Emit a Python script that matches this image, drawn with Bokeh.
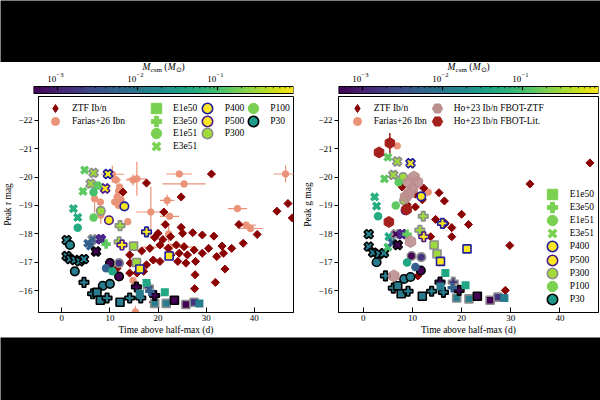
import math
import numpy as np
from bokeh.plotting import figure
from bokeh.layouts import column, row
from bokeh.models import (ColumnDataSource, LogColorMapper, LinearColorMapper,
                          Legend, LegendItem, Range1d, FixedTicker)
from bokeh.transform import transform
from bokeh.palettes import Viridis256
from bokeh.core.properties import value, field
from bokeh.embed import file_html
from bokeh.resources import INLINE

FONT = "Liberation Serif"

# ---------------------------------------------------------------- data
# ZTF Ib/n, r band: time above half max (d), peak magnitude
ztf_r_t = [17.6, 12.7, 31.1, 24.8, 21.2, 44.7, 47.0, 47.9, 36.8, 21.5, 24.8, 25.1,
           20.0, 19.3, 27.2, 29.2, 31.6, 40.6, 33.3, 35.3, 37.7, 14.1, 16.6, 18.3,
           20.4, 22.1, 23.8, 25.4, 27.5, 29.2, 30.5, 32.2, 33.6, 14.2, 16.3, 17.6,
           19.0, 20.4, 24.1, 25.8, 27.8, 22.7, 24.4, 26.1, 15.6, 17.0, 14.1, 33.9,
           27.7, 31.9, 27.6, 11.5, 19.0, 21.0, 22.6]
ztf_r_mag = [-19.79, -19.47, -20.11, -19.30, -18.77, -18.80, -19.07, -18.56, -18.33,
             -18.33, -18.23, -18.02, -18.02, -17.87, -18.04, -17.96, -17.92, -17.98,
             -17.57, -17.49, -17.67, -17.26, -17.40, -17.49, -17.61, -17.49, -17.61,
             -17.55, -17.43, -17.32, -17.49, -17.20, -17.32, -16.97, -16.79, -16.91,
             -17.08, -17.03, -17.03, -16.97, -17.03, -17.26, -17.32, -17.26, -16.62,
             -16.68, -16.62, -16.76, -16.56, -16.29, -16.07, -16.79, -15.59, -17.80,
             -17.90]

# Farias+26 Ibn, r band, with uncertainties
far_r_t = [24.4, 25.4, 21.9, 18.5, 22.4, 36.5, 46.5, 38.3, 39.2, 15.6, 14.8, 11.3,
           10.5, 11.8, 11.5, 11.0, 11.8, 12.3, 12.0, 6.8, 8.0, 8.1, 13.7, 22.4, 14.8,
           15.3, 22.2]
far_r_mag = [-20.11, -19.76, -19.18, -18.77, -18.62, -18.89, -20.11, -18.31, -18.19,
             -19.94, -19.90, -19.90, -20.10, -19.50, -19.30, -19.12, -19.00, -19.20,
             -19.65, -19.24, -19.12, -18.66, -18.43, -17.53, -16.36, -15.25, -18.00]
far_r_terr = [2.7, 4.5, 1.5, 3.1, 2.0, 2.0, 2.5, 2.0, 2.5, 2.0, 1.5, 1.0, 2.4, 0.5,
              0.5, 0.4, 0.3, 0.3, 0.3, 0.3, 0.3, 0.5, 0.3, 5.6, 0.3, 0.5, 0.3]
far_r_magerr = [0.1, 0.1, 0.2, 0.9, 0.1, 0.05, 0.3, 0.1, 0.1, 0.6, 0.2, 0.15, 0.3,
                0.1, 0.1, 0.1, 0.1, 0.1, 0.1, 0.5, 0.1, 0.3, 0.1, 0.1, 0.1, 0.2, 0.3]

# CSM interaction models, r band: explosion, CSM profile, CSM mass (Msun)
mod_r_t = [4.75, 4.4, 2.4, 3.3, 3.3, 6.6, 6.0, 9.6, 9.0, 7.5, 6.6, 6.6, 8.1, 13.0,
           9.8, 12.1, 17.6, 1.0, 1.7, 1.0, 1.7, 2.7, 3.7, 4.6, 2.7, 4.6, 8.5, 10.0,
           6.4, 7.3, 8.0, 9.4, 12.1, 14.1, 16.4, 19.3, 21.7, 23.4, 25.8, 27.5, 28.6,
           6.4, 8.1, 5.4, 5.95, 7.1, 9.2, 11.9, 12.5, 14.9, 15.5, 16.2, 22.3, 10.0,
           11.9, 11.9, 9.2, 10.5, 15.5, 18.0, 19.3, 17.6, 21.4, 16.2, 18.3]
mod_r_mag = [-20.25, -19.50, -18.89, -18.58, -18.22, -20.15, -19.77, -20.11, -19.60,
             -19.70, -19.47, -18.58, -18.81, -18.97, -18.48, -18.29, -18.07, -17.78,
             -17.61, -17.22, -17.11, -17.08, -17.03, -17.11, -16.68, -16.29, -16.17,
             -16.24, -15.89, -15.94, -15.66, -15.74, -15.59, -15.74, -15.74, -15.55,
             -15.55, -15.66, -15.51, -15.59, -15.55, -17.81, -17.81, -17.67, -17.57,
             -17.38, -17.64, -17.72, -17.61, -17.57, -16.99, -16.76, -17.22, -16.97,
             -16.97, -16.50, -16.79, -16.68, -16.13, -16.13, -15.83, -16.27, -15.94,
             -15.90, -15.98]
mod_r_expl = ["E3e51", "E3e51", "E3e51", "E3e51", "E1e51", "E3e51", "E3e51", "E3e51",
              "E3e51", "E1e51", "E1e51", "E1e51", "E1e51", "E1e51", "E1e51", "E3e50",
              "E3e50", "E3e51", "E1e51", "E3e51", "E3e51", "E3e51", "E3e51", "E3e51",
              "E1e51", "E3e50", "E1e51", "E1e51", "E3e50", "E1e50", "E1e50", "E3e50",
              "E1e50", "E3e50", "E3e50", "E1e50", "E1e50", "E1e50", "E1e50", "E1e50",
              "E1e50", "E3e51", "E3e51", "E3e51", "E3e51", "E3e51", "E3e50", "E3e50",
              "E3e50", "E1e50", "E1e50", "E1e50", "E1e50", "E1e51", "E1e51", "E1e51",
              "E1e51", "E1e51", "E3e50", "E3e50", "E3e50", "E1e50", "E1e50", "E1e50",
              "E3e50"]
mod_r_prof = ["P100", "P100", "P100", "P100", "P100", "P300", "P300", "P400", "P500",
              "P100", "P100", "P100", "P300", "P400", "P500", "P300", "P400", "P30",
              "P30", "P30", "P30", "P30", "P30", "P30", "P30", "P30", "P30", "P30",
              "P30", "P30", "P30", "P30", "P30", "P30", "P30", "P300", "P300", "P30",
              "P300", "P300", "P100", "P300", "P500", "P100", "P100", "P30", "P100",
              "P300", "P500", "P300", "P300", "P400", "P400", "P30", "P300", "P30",
              "P100", "P100", "P30", "P300", "P30", "P100", "P100", "P100", "P100"]
mod_r_mcsm = [0.14, 0.14, 0.06, 0.05, 0.05, 0.3, 0.3, 0.8, 0.8, 0.14, 0.1, 0.14, 0.3,
              0.8, 0.8, 0.3, 0.8, 0.015, 0.015, 0.012, 0.012, 0.012, 0.012, 0.012,
              0.012, 0.012, 0.012, 0.012, 0.012, 0.012, 0.012, 0.012, 0.012, 0.012,
              0.012, 0.012, 0.012, 0.0005, 0.0005, 0.0016, 0.012, 0.005, 0.0016, 0.005,
              0.0047, 0.0005, 0.14, 0.3, 0.8, 0.3, 0.3, 0.8, 0.8, 0.0005, 0.0016,
              0.0005, 0.005, 0.045, 0.0005, 0.0016, 0.0005, 0.045, 0.045, 0.012, 0.005]

# ZTF Ib/n, g band
ztf_g_t = [46.1, 33.9, 12.3, 15.4, 16.5, 10.6, 7.9, 8.9, 10.6, 12.0, 8.9, 20.0, 14.7,
           16.7, 21.4, 18.0, 13.7, 18.0, 29.8, 28.9, 11.1]
ztf_g_mag = [-20.50, -19.76, -19.61, -19.45, -19.16, -19.40, -19.65, -19.40, -18.95,
             -19.20, -19.03, -18.69, -18.51, -18.37, -18.33, -18.22, -17.90, -17.90,
             -17.59, -16.01, -16.52]

# Farias+26 Ibn, g band
far_g_t = [6.9, 13.2]
far_g_mag = [-21.10, -19.47]

# Ho+23 Ib/n FBOTs
ho_ztf_t = [10.3, 11.0, 9.3, 10.0, 9.3, 8.6, 9.6, 6.2]
ho_ztf_mag = [-20.00, -19.82, -19.82, -19.59, -19.42, -19.30, -17.73, -16.52]
ho_lit_t = [3.2, 5.4, 8.8, 5.2]
ho_lit_mag = [-20.87, -21.20, -18.86, -18.42]
ho_lit_magerr = [0.0, 0.35, 0.15, 0.0]

# CSM interaction models, g band
mod_g_t = [5.0, 4.3, 2.3, 2.7, 3.0, 6.9, 6.1, 9.6, 8.1, 7.2, 6.6, 8.3, 11.8, 8.6,
           12.2, 11.5, 16.1, 12.3, 1.1, 1.1, 2.0, 3.2, 4.2, 2.7, 4.5, 6.1, 7.0, 7.7,
           9.1, 8.3, 9.6, 12.0, 13.9, 16.3, 19.0, 21.5, 23.2, 25.8, 27.4, 28.7, 5.2,
           5.0, 5.9, 6.6, 7.9, 7.0, 8.9, 14.4, 15.0, 15.7, 21.1, 9.8, 11.8, 11.7, 8.9,
           10.6, 16.7, 15.6, 18.3, 19.5, 20.8, 15.7, 18.1]
mod_g_mag = [-20.70, -19.94, -19.30, -18.98, -18.62, -20.55, -20.08, -20.49, -20.00,
             -19.82, -19.00, -19.18, -19.32, -18.83, -18.62, -18.13, -18.37, -17.90,
             -17.99, -17.55, -17.34, -17.29, -17.32, -17.00, -16.52, -16.09, -16.17,
             -15.89, -15.98, -16.41, -16.48, -15.80, -15.98, -15.94, -15.74, -15.71,
             -15.80, -15.66, -15.77, -15.74, -17.90, -17.53, -17.69, -17.99, -17.99,
             -17.61, -17.99, -17.61, -17.29, -17.03, -17.47, -17.22, -17.18, -16.71,
             -16.99, -16.83, -16.62, -16.30, -16.30, -16.01, -16.19, -16.15, -16.10]
mod_g_expl = ["E3e51", "E3e51", "E3e51", "E3e51", "E1e51", "E3e51", "E3e51", "E3e51",
              "E1e51", "E1e51", "E1e51", "E1e51", "E1e51", "E1e51", "E3e50", "E3e50",
              "E3e50", "E3e50", "E3e51", "E3e51", "E3e51", "E3e51", "E3e51", "E1e51",
              "E3e50", "E3e50", "E1e50", "E1e50", "E3e50", "E1e51", "E1e51", "E1e50",
              "E3e50", "E3e50", "E1e50", "E1e50", "E1e50", "E1e50", "E1e50", "E1e50",
              "E3e51", "E3e51", "E3e51", "E3e51", "E3e51", "E3e51", "E3e50", "E1e50",
              "E1e50", "E1e50", "E1e50", "E1e51", "E1e51", "E1e51", "E1e51", "E1e51",
              "E1e50", "E3e50", "E3e50", "E3e50", "E1e50", "E1e50", "E3e50"]
mod_g_prof = ["P100", "P100", "P100", "P100", "P100", "P300", "P300", "P400", "P300",
              "P100", "P100", "P300", "P400", "P500", "P300", "P300", "P400", "P500",
              "P30", "P30", "P30", "P30", "P30", "P30", "P30", "P30", "P30", "P30",
              "P30", "P30", "P30", "P30", "P30", "P30", "P300", "P300", "P30", "P300",
              "P300", "P100", "P100", "P100", "P100", "P300", "P500", "P30", "P100",
              "P300", "P300", "P400", "P400", "P300", "P300", "P30", "P100", "P100",
              "P100", "P30", "P300", "P30", "P100", "P100", "P100"]
mod_g_mcsm = [0.14, 0.14, 0.06, 0.05, 0.05, 0.3, 0.3, 0.8, 0.3, 0.14, 0.14, 0.3, 0.8,
              0.8, 0.3, 0.3, 0.8, 0.8, 0.015, 0.012, 0.012, 0.012, 0.012, 0.012,
              0.012, 0.012, 0.012, 0.012, 0.012, 0.012, 0.012, 0.012, 0.012, 0.012,
              0.012, 0.012, 0.0005, 0.0005, 0.0016, 0.012, 0.045, 0.1, 0.005, 0.0005,
              0.0016, 0.0005, 0.14, 0.3, 0.3, 0.8, 0.8, 0.0005, 0.0016, 0.0005, 0.045,
              0.005, 0.045, 0.0005, 0.0016, 0.0005, 0.045, 0.012, 0.005]

# axis ticks
X_TICKS = [0, 10, 20, 30, 40]
Y_TICKS = [-22, -21, -20, -19, -18, -17, -16]
CB_MAJOR = [-3, -2, -1]
CB_EXP = ["\u22123", "\u22122", "\u22121"]

# ---------------------------------------------------------------- styles
ZTF_C = "#8B0000"
FAR_C = "#EA9378"
HO_ZTF_C = "#BC8F8F"
HO_LIT_C = "#A4201C"
KEY_GREEN = "#7AD151"
LOG_LO, LOG_HI = -3.3, -0.05
cmap = LogColorMapper(palette=Viridis256, low=10 ** LOG_LO, high=10 ** LOG_HI)

SHAPE = {"E1e50": ("square", 0.0, 8), "E3e50": ("plus", 0.0, 9.5),
         "E1e51": ("circle", 0.0, 8.5), "E3e51": ("plus", math.pi / 4, 9.5)}
EDGE = {"P400": "#1E1E9E", "P500": "#4B1A8C", "P300": "#8C8C8C", "P100": None, "P30": "black"}

CB_MINOR = [math.log10(k * 10.0 ** d) for d in (-4, -3, -2, -1) for k in range(2, 10)]
CB_MINOR = [v for v in CB_MINOR if LOG_LO < v < LOG_HI]
NAN = [float("nan")]


def model_source(t, mag, expl, prof, mcsm):
    return ColumnDataSource(dict(
        t=t, mag=mag, m=mcsm,
        marker=[SHAPE[e][0] for e in expl],
        angle=[SHAPE[e][1] for e in expl],
        size=[SHAPE[e][2] for e in expl],
        edge=[EDGE[p] or "#ffffff" for p in prof],
        edge_alpha=[0.0 if EDGE[p] is None else 1.0 for p in prof],
    ))


def colorbar_fig(bl, br):
    f = figure(width=300, height=33, x_range=Range1d(LOG_LO, LOG_HI), y_range=Range1d(0, 33),
               output_backend="svg", toolbar_location=None, x_axis_location=None,
               y_axis_location=None, min_border_left=bl, min_border_right=br,
               min_border_top=0, min_border_bottom=0)
    f.grid.visible = False
    f.outline_line_color = None
    grad = np.linspace(LOG_LO, LOG_HI, 256)[None, :]
    f.image(image=[grad], x=LOG_LO, y=2, dw=LOG_HI - LOG_LO, dh=7,
            color_mapper=LinearColorMapper(palette=Viridis256, low=LOG_LO, high=LOG_HI))
    f.quad(left=[LOG_LO], right=[LOG_HI], bottom=[2], top=[9], fill_color=None,
           line_color="black", line_width=1)
    f.segment(x0=CB_MAJOR, y0=[9] * 3, x1=CB_MAJOR, y1=[5.2] * 3, line_color="black", line_width=1.2)
    f.segment(x0=CB_MINOR, y0=[9] * len(CB_MINOR), x1=CB_MINOR, y1=[7.2] * len(CB_MINOR),
              line_color="black", line_width=0.8)
    f.text(x=CB_MAJOR, y=[17] * 3, text=["10"] * 3, text_align="right", text_baseline="middle",
           x_offset=-1.2, text_font=value(FONT), text_font_size=value("9px"), text_color="black")
    f.text(x=CB_MAJOR, y=[17] * 3, text=CB_EXP, text_align="left", text_baseline="middle",
           x_offset=-1.0, y_offset=-3.5, text_font=value(FONT), text_font_size=value("6.5px"),
           text_color="black")
    cx = (LOG_LO + LOG_HI) / 2
    pieces = [("M", "italic", "9.5px", -21.0, 0.0), ("csm", "normal", "7px", -12.9, 2.5),
              ("(", "normal", "9.5px", 0.8, 0.0), ("M", "italic", "9.5px", 4.2, 0.0),
              ("\u2299", "normal", "6.5px", 12.3, 2.5), (")", "normal", "9.5px", 18.1, 0.0)]
    for s, st, fs, dx, dy in pieces:
        f.text(x=[cx], y=[28.5], text=[s], text_align="left", text_baseline="middle",
               x_offset=dx, y_offset=dy, text_font=value(FONT), text_font_style=st,
               text_font_size=value(fs), text_color="black")
    return f


def panel(bl, br, xr, ylabel):
    p = figure(width=300, height=242, x_range=Range1d(*xr), y_range=Range1d(-15.23, -22.84),
               output_backend="svg", toolbar_location=None, min_border_left=bl,
               min_border_right=br, min_border_top=1, min_border_bottom=24)
    p.grid.visible = False
    p.outline_line_color = "black"
    p.outline_line_width = 1
    p.xaxis.ticker = FixedTicker(ticks=X_TICKS, minor_ticks=[])
    p.yaxis.ticker = FixedTicker(ticks=Y_TICKS, minor_ticks=[])
    p.yaxis.major_label_overrides = {v: "\u2212%d" % abs(v) for v in Y_TICKS}
    p.xaxis.major_tick_in = 5
    p.xaxis.major_tick_out = 0
    p.yaxis.major_tick_in = 0
    p.yaxis.major_tick_out = 4
    for ax in (p.xaxis, p.yaxis):
        ax.axis_line_color = "black"
        ax.major_tick_line_color = "black"
        ax.minor_tick_line_color = None
        ax.major_label_text_font = FONT
        ax.major_label_text_font_size = "9px"
        ax.major_label_text_color = "black"
        ax.axis_label_text_font = FONT
        ax.axis_label_text_font_size = "9.5px"
        ax.axis_label_text_font_style = "normal"
        ax.axis_label_text_color = "black"
        ax.major_label_standoff = 2
    p.xaxis.axis_label = "Time above half-max (d)"
    p.yaxis.axis_label = ylabel
    p.xaxis.axis_label_standoff = 1
    p.yaxis.axis_label_standoff = 2
    return p


def add_key(p, label, renderers, marker_cx, text_x, cy, glyph, frame_left, frame_bottom):
    """One legend entry: glyph centred at (marker_cx, cy) in page pixels."""
    lg = Legend(items=[LegendItem(label=label, renderers=renderers)], orientation="vertical",
                padding=0, margin=0, spacing=0, border_line_color=None,
                background_fill_alpha=0, glyph_width=glyph, glyph_height=glyph,
                label_height=glyph, label_text_font=FONT, label_text_font_size="9.5px",
                label_text_color="black", label_text_baseline="middle",
                label_standoff=int(round(text_x - (marker_cx + glyph / 2))))
    lg.location = (marker_cx - frame_left - glyph / 2, frame_bottom - (cy + glyph / 2))
    p.add_layout(lg)


def add_key_column(p, entries, marker_cx, text_x, first_cy, glyph, pitch, frame_left, frame_bottom):
    for i, (lab, rs) in enumerate(entries):
        add_key(p, lab, rs, marker_cx, text_x, first_cy + i * pitch, glyph, frame_left, frame_bottom)


def draw_errors(p, t, mag, terr, magerr, color):
    p.segment(x0=[a - e for a, e in zip(t, terr)], y0=mag, x1=[a + e for a, e in zip(t, terr)],
              y1=mag, line_color=color, line_width=1.2)
    p.segment(x0=t, y0=[m - e for m, e in zip(mag, magerr)], x1=t,
              y1=[m + e for m, e in zip(mag, magerr)], line_color=color, line_width=1.2)


def draw_models(p, src):
    p.scatter(x="t", y="mag", source=src, marker=field("marker"), angle=field("angle"),
              size=field("size"), fill_color=transform("m", cmap), line_color=field("edge"),
              line_alpha=field("edge_alpha"), line_width=1.6)


def key_glyphs(p):
    # off-canvas (NaN) glyphs that only supply legend swatches
    k = {}
    k["ztf"] = p.scatter(x=NAN, y=NAN, marker="diamond", fill_color=ZTF_C, line_color=ZTF_C)
    k["far"] = [p.scatter(x=NAN, y=NAN, marker="circle", fill_color=FAR_C, line_color=FAR_C),
                p.scatter(x=NAN, y=NAN, marker="cross", line_color=FAR_C, line_width=1.2)]
    k["E1e50"] = p.scatter(x=NAN, y=NAN, marker="square", fill_color=KEY_GREEN, line_color=KEY_GREEN)
    k["E3e50"] = p.scatter(x=NAN, y=NAN, marker="plus", fill_color=KEY_GREEN, line_color=KEY_GREEN)
    k["E1e51"] = p.scatter(x=NAN, y=NAN, marker="circle", fill_color=KEY_GREEN, line_color=KEY_GREEN)
    k["E3e51"] = p.scatter(x=NAN, y=NAN, marker="x", line_color=KEY_GREEN, line_width=3.6)
    k["P400"] = p.scatter(x=NAN, y=NAN, marker="circle", fill_color="#FDE725", line_color=EDGE["P400"], line_width=1.6)
    k["P500"] = p.scatter(x=NAN, y=NAN, marker="circle", fill_color="#FDE725", line_color=EDGE["P500"], line_width=1.6)
    k["P300"] = p.scatter(x=NAN, y=NAN, marker="circle", fill_color="#A2DA37", line_color=EDGE["P300"], line_width=1.6)
    k["P100"] = p.scatter(x=NAN, y=NAN, marker="circle", fill_color=KEY_GREEN, line_color=KEY_GREEN)
    k["P30"] = p.scatter(x=NAN, y=NAN, marker="circle", fill_color="#1F9A8A", line_color="black", line_width=1.6)
    return k


# ---------------------------------------------------------------- left: r band
L_LEFT, L_BOTTOM = 33, 313
cb_l = colorbar_fig(33, 7)
p_l = panel(33, 7, (-4.85, 48.15), "Peak r mag")
draw_errors(p_l, far_r_t, far_r_mag, far_r_terr, far_r_magerr, FAR_C)
p_l.scatter(far_r_t, far_r_mag, marker="circle", size=6.5, fill_color=FAR_C, line_color=FAR_C)
p_l.scatter(ztf_r_t, ztf_r_mag, marker="square", angle=math.pi / 4, size=5.7,
            fill_color=ZTF_C, line_color=ZTF_C)
draw_models(p_l, model_source(mod_r_t, mod_r_mag, mod_r_expl, mod_r_prof, mod_r_mcsm))
kl = key_glyphs(p_l)
add_key_column(p_l, [("ZTF Ib/n", [kl["ztf"]]), ("Farias+26 Ibn", kl["far"])],
               50, 66.7, 109.3, 20, 12.5, L_LEFT, L_BOTTOM)
add_key_column(p_l, [(e, [kl[e]]) for e in ("E1e50", "E3e50", "E1e51", "E3e51")],
               151, 168.3, 109.3, 26, 12.5, L_LEFT, L_BOTTOM)
add_key_column(p_l, [(q, [kl[q]]) for q in ("P400", "P500", "P300")],
               201.7, 220, 109.3, 26, 12.5, L_LEFT, L_BOTTOM)
add_key_column(p_l, [(q, [kl[q]]) for q in ("P100", "P30")],
               248.3, 265, 109.3, 26, 12.5, L_LEFT, L_BOTTOM)

# ---------------------------------------------------------------- right: g band
R_LEFT, R_BOTTOM = 338 - 300, 313
cb_r = colorbar_fig(38, 2)
p_r = panel(38, 2, (-5.05, 47.85), "Peak g mag")
p_r.scatter(far_g_t, far_g_mag, marker="circle", size=6.5, fill_color=FAR_C, line_color=FAR_C)
p_r.scatter(ztf_g_t, ztf_g_mag, marker="square", angle=math.pi / 4, size=5.7,
            fill_color=ZTF_C, line_color=ZTF_C)
draw_models(p_r, model_source(mod_g_t, mod_g_mag, mod_g_expl, mod_g_prof, mod_g_mcsm))
p_r.scatter(ho_ztf_t, ho_ztf_mag, marker="hex", angle=math.pi / 6, size=12,
            fill_color=HO_ZTF_C, line_color=HO_ZTF_C, fill_alpha=0.9)
p_r.segment(x0=ho_lit_t, y0=[m - e for m, e in zip(ho_lit_mag, ho_lit_magerr)], x1=ho_lit_t,
            y1=[m + e for m, e in zip(ho_lit_mag, ho_lit_magerr)], line_color=HO_LIT_C, line_width=1.5)
p_r.scatter(ho_lit_t, ho_lit_mag, marker="hex", angle=math.pi / 6, size=11,
            fill_color=HO_LIT_C, line_color=HO_LIT_C)
kr = key_glyphs(p_r)
k_ho_ztf = p_r.scatter(x=NAN, y=NAN, marker="hex", fill_color=HO_ZTF_C, line_color=HO_ZTF_C)
k_ho_lit = p_r.scatter(x=NAN, y=NAN, marker="hex", fill_color=HO_LIT_C, line_color=HO_LIT_C)
add_key_column(p_r, [("ZTF Ib/n", [kr["ztf"]]), ("Farias+26 Ibn", kr["far"])],
               356.7 - 300, 373.3 - 300, 109.3, 20, 12.5, R_LEFT, R_BOTTOM)
add_key_column(p_r, [("Ho+23 Ib/n FBOT-ZTF", [k_ho_ztf]), ("Ho+23 Ib/n FBOT-Lit.", [k_ho_lit])],
               436.7 - 300, 454 - 300, 109.3, 26, 12.5, R_LEFT, R_BOTTOM)
add_key_column(p_r, [(q, [kr[q]]) for q in ("E1e50", "E3e50", "E1e51", "E3e51",
                                             "P400", "P500", "P300", "P100", "P30")],
               551.7 - 300, 569.3 - 300, 195, 26, 13.1, R_LEFT, R_BOTTOM)


# ---------------------------------------------------------------- page
def band(h):
    b = figure(width=600, height=h, output_backend="svg", toolbar_location=None,
               x_axis_location=None, y_axis_location=None, min_border=0,
               x_range=Range1d(0, 1), y_range=Range1d(0, 1),
               background_fill_color="black", border_fill_color="black")
    b.outline_line_color = None
    b.grid.visible = False
    return b


page = column(band(62), row(cb_l, cb_r), row(p_l, p_r), band(63))
open("out.html", "w").write(file_html(page, INLINE))
